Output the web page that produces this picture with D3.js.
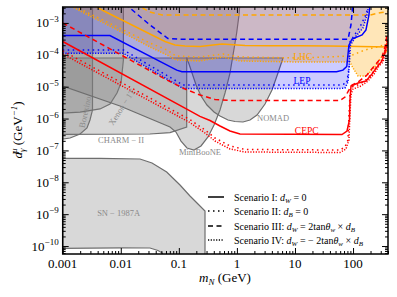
<!DOCTYPE html>
<html>
<head>
<meta charset="utf-8">
<script src="https://cdn.jsdelivr.net/npm/d3@7"></script>
<style>
body { margin: 0; background: #fff; }
text { font-family: "Liberation Serif", "DejaVu Serif", serif; }
</style>
</head>
<body>
<script>
// size of the picture
var width = 397;
var height = 297;

// axis ticks
var xTickValues = [0.001, 0.01, 0.1, 1, 10, 100];
var xTickLabels = ["0.001", "0.01", "0.1", "1", "10", "100"];
var yTickExponents = [-3, -4, -5, -6, -7, -8, -9, -10];

// sensitivity curves, [m_N (GeV), d (GeV^-1)]
var lepI = [[0.001, 4.0e-4], [0.0065, 4.0e-4], [0.092, 3.3e-5], [0.113, 2.95e-5], [52, 2.95e-5], [67, 3.3e-5], [78, 4.3e-5], [85, 2.0e-4], [96, 3.1e-4], [143, 4.2e-4], [167, 6.0e-4], [188, 1.8e-3], [196, 4e-3]];
var lepII = [[0.001, 1.42e-4], [0.0111, 1.42e-4], [0.118, 1.13e-5], [59.6, 1.13e-5], [77.8, 1.28e-5], [86, 4.24e-5], [86, 2.34e-4], [132, 7.6e-4], [172, 2.05e-3], [181, 4e-3]];
var lepIII = [[0.0118, 4e-3], [0.0318, 8.6e-4], [0.065, 3.25e-4], [0.105, 3.07e-4], [82, 3.07e-4], [92, 8.6e-4], [99.8, 4e-3]];
var lepIV = [[0.001, 1.11e-4], [0.0111, 1.11e-4], [0.118, 8.77e-6], [59.6, 8.77e-6], [72.7, 9.1e-6], [81.8, 1.4e-5], [86.8, 5.9e-5], [90.3, 2.0e-4], [113, 3.89e-4], [148, 6.9e-4], [174, 1.77e-3], [188, 4e-3]];

var lhcI = [[0.0032, 4e-3], [0.00494, 2.45e-3], [0.0144, 9.27e-4], [0.0318, 4.5e-4], [0.0578, 2.61e-4], [0.0859, 2.03e-4], [0.1276, 1.89e-4], [0.231, 1.82e-4], [0.553, 2.18e-4], [1.379, 1.96e-4], [3.71, 1.93e-4], [12.2, 1.93e-4], [40.1, 1.89e-4], [132, 1.82e-4], [400, 1.76e-4]];
var lhcII = [[0.0016, 3.3e-3], [0.0111, 6.0e-4], [0.0318, 2.34e-4], [0.0625, 1.42e-4], [0.0893, 9.17e-5], [0.231, 8.54e-5], [0.575, 1.06e-4], [1.13, 8.54e-5], [12.2, 7.94e-5], [88.5, 9.17e-5], [161, 1.42e-4], [400, 2.18e-4]];
var lhcIII = [[0.0176, 4e-3], [0.0318, 2.2e-3], [0.0513, 1.77e-3], [196, 1.77e-3], [291, 2.1e-3], [400, 2.28e-3]];
var lhcIV = [[0.0014, 3.3e-3], [0.0111, 4.84e-4], [0.0318, 1.76e-4], [0.0625, 9.86e-5], [0.0893, 6.87e-5], [0.231, 6.39e-5], [0.575, 8.54e-5], [1.13, 6.39e-5], [12.2, 5.94e-5], [88.5, 5.94e-5], [99.8, 3.85e-5], [122, 2.16e-5], [167, 2.16e-5], [230, 3.85e-5], [303, 7.94e-5], [400, 1.42e-4]];

var cepcI = [[0.001, 2.61e-4], [0.1556, 1.74e-6], [0.231, 1.17e-6], [0.344, 8.69e-7], [0.512, 5.83e-7], [0.76, 4.07e-7], [1.13, 3.27e-7], [64.5, 3.16e-7], [78.7, 4.07e-7], [86.8, 9.0e-7], [88.5, 3.82e-6], [92.2, 1.05e-5], [122, 1.3e-5], [167, 1.51e-5], [212, 2.5e-5], [259, 4.14e-5], [315, 6.39e-5], [355, 1.22e-4], [384, 2.18e-4], [400, 2.92e-4]];
var cepcII = [[0.001, 1.32e-4], [0.1556, 9.27e-7], [0.2823, 4.37e-7], [0.4198, 2.45e-7], [0.76, 1.38e-7], [1.379, 1.07e-7], [59.6, 1.03e-7], [72.7, 1.28e-7], [81.8, 2.12e-7], [85.1, 1.29e-6], [88.5, 5.48e-6], [95.9, 9.77e-6], [132, 1.21e-5], [174, 1.74e-5], [221, 2.88e-5], [269, 5.14e-5], [315, 6.87e-5], [355, 1.42e-4], [384, 2.92e-4]];
var cepcIII = [[0.001, 1.0e-3], [0.0578, 1.74e-5], [0.1276, 8.45e-6], [0.231, 5.48e-6], [0.42, 3.96e-6], [0.824, 3.68e-6], [59.6, 3.68e-6], [72.7, 4.74e-6], [85.1, 7.87e-6], [95.9, 1.13e-5], [122, 1.4e-5], [174, 2.32e-5], [239, 4.79e-5], [315, 8.54e-5], [355, 1.76e-4], [384, 4.18e-4]];
var cepcIV = [[0.001, 1.06e-4], [0.1556, 7.46e-7], [0.2823, 3.52e-7], [0.4198, 1.97e-7], [0.76, 1.11e-7], [1.379, 8.92e-8], [59.6, 8.61e-8], [75.6, 1.11e-7], [85.1, 2.12e-7], [88.5, 1.29e-6], [92.2, 5.48e-6], [99.8, 8.45e-6], [137, 1.05e-5], [181, 1.51e-5], [230, 2.5e-5], [280, 4.46e-5], [328, 5.94e-5], [369, 1.22e-4], [400, 2.49e-4]];

// existing bounds (closed outlines)
var borexino = [[0.001, 1e-2], [0.00326, 1e-2], [0.00326, 1.85e-6], [0.00295, 9.0e-7], [0.00262, 5.05e-7], [0.00199, 3.27e-7], [0.00134, 2.45e-7], [0.001, 2.28e-7]];
var xenon = [[0.001, 1e-2], [0.0111, 1e-2], [0.0111, 6.87e-5], [0.0101, 1.3e-5], [0.00861, 6.34e-6], [0.00653, 2.86e-6], [0.00439, 2.0e-6], [0.00199, 1.6e-6], [0.001, 1.49e-6]];
var charm2 = [[0.001, 7.94e-5], [0.1365, 7.94e-5], [0.1365, 5.43e-7], [0.0705, 3.6e-7], [0.0318, 3.27e-7], [0.001, 3.2e-7]];
var miniboone = [[0.001, 1e-2], [1.17, 1e-2], [1.087, 1.77e-3], [0.99, 4.84e-4], [0.857, 9.86e-5], [0.76, 2.68e-5], [0.624, 6.34e-6], [0.512, 1.85e-6], [0.4036, 6.27e-7], [0.318, 2.64e-7], [0.241, 1.38e-7], [0.182, 1.03e-7], [0.138, 1.19e-7], [0.109, 1.97e-7], [0.0893, 3.78e-7], [0.0705, 5.43e-7], [0.0097, 2.48e-6], [0.001, 1.05e-5]];
var nomad = [[0.1365, 7.94e-5], [6.22, 7.94e-5], [5.1, 2.68e-5], [4.02, 7.87e-6], [3.05, 2.86e-6], [2.22, 1.29e-6], [1.682, 9.0e-7], [1.273, 7.79e-7], [0.927, 8.07e-7], [0.703, 9.0e-7], [0.512, 1.2e-6], [0.4036, 1.6e-6], [0.305, 2.66e-6], [0.241, 5.1e-6], [0.198, 1.13e-5], [0.1686, 2.68e-5], [0.1496, 5.14e-5]];
var sn1987a = [[0.001, 5.65e-8], [0.00439, 5.65e-8], [0.0214, 5.38e-8], [0.0345, 4.03e-8], [0.0618, 2.1e-8], [0.1047, 8.22e-9], [0.1556, 3.71e-9], [0.2137, 2.08e-9], [0.2823, 1.26e-9], [0.2823, 1e-11], [0.065, 1e-11], [0.052, 6.0e-11], [0.0437, 7.24e-11], [0.0318, 8.67e-11], [0.01, 8.8e-11], [0.001, 8.5e-11]];

// legend rows: pieces of text with their style
var legendRows = [
    [["Scenario I:  ", "rm"], ["d", "it"], ["W", "sub"], [" = 0", "rm"]],
    [["Scenario II:  ", "rm"], ["d", "it"], ["B", "sub"], [" = 0", "rm"]],
    [["Scenario III:  ", "rm"], ["d", "it"], ["W", "sub"], [" = 2tan", "rm"], ["θ", "it"], ["w", "sub"], [" ×  ", "rm"], ["d", "it"], ["B", "sub"]],
    [["Scenario IV:  ", "rm"], ["d", "it"], ["W", "sub"], [" = − 2tan", "rm"], ["θ", "it"], ["w", "sub"], [" ×  ", "rm"], ["d", "it"], ["B", "sub"]]
];

// line style of each scenario
var dashes = [null, "1.5,3.5", "5,3.5", "1.2,1.5"];

// scales
var x = d3.scaleLog()
    .domain([0.001, 400])
    .range([62.7, 388]);

var y = d3.scaleLog()
    .domain([Math.pow(10, -10.25), Math.pow(10, -2.5)])
    .range([254, 7]);

var svg = d3.select("body")
    .append("svg")
    .attr("width", width)
    .attr("height", height);

svg.append("defs")
    .append("clipPath")
    .attr("id", "plotClip")
    .append("rect")
    .attr("x", x.range()[0])
    .attr("y", y.range()[1])
    .attr("width", x.range()[1] - x.range()[0])
    .attr("height", y.range()[0] - y.range()[1]);

var plot = svg.append("g").attr("clip-path", "url(#plotClip)");

var line = d3.line()
    .x(function (d) { return x(d[0]); })
    .y(function (d) { return y(d[1]); });

// gray excluded regions
plot.selectAll("path.bound")
    .data([borexino, xenon, charm2, miniboone, nomad, sn1987a])
    .enter()
    .append("path")
    .attr("class", "bound")
    .attr("d", function (d) { return line(d) + "Z"; })
    .style("fill", "#7f7f7f")
    .style("fill-opacity", 0.3)
    .style("stroke", "#6e6e6e")
    .style("stroke-width", 1.2);

// shaded reach of LEP and LHC (above the lowest curve)
var lepFill = [[0.001, 1e-2]].concat(lepIV, [[lepIV[lepIV.length - 1][0], 1e-2]]);
var lhcFill = [[lhcIV[0][0], 1e-2]].concat(lhcIV, [[400, 1e-2]]);

plot.append("path")
    .attr("d", line(lhcFill) + "Z")
    .style("fill", "orange")
    .style("fill-opacity", 0.28);

plot.append("path")
    .attr("d", line(lepFill) + "Z")
    .style("fill", "blue")
    .style("fill-opacity", 0.2);

// all the curves
var curves = [
    { pts: lhcI, color: "orange", s: 0 }, { pts: lhcII, color: "orange", s: 1 },
    { pts: lhcIII, color: "orange", s: 2 }, { pts: lhcIV, color: "orange", s: 3 },
    { pts: lepI, color: "blue", s: 0 }, { pts: lepII, color: "blue", s: 1 },
    { pts: lepIII, color: "blue", s: 2 }, { pts: lepIV, color: "blue", s: 3 },
    { pts: cepcI, color: "red", s: 0 }, { pts: cepcII, color: "red", s: 1 },
    { pts: cepcIII, color: "red", s: 2 }, { pts: cepcIV, color: "red", s: 3 }
];

plot.selectAll("path.curve")
    .data(curves)
    .enter()
    .append("path")
    .attr("class", "curve")
    .attr("d", function (d) { return line(d.pts); })
    .style("fill", "none")
    .style("stroke", function (d) { return d.color; })
    .style("stroke-width", 1.5)
    .style("stroke-dasharray", function (d) { return dashes[d.s]; });

// region labels
function label(txt, m, d, color, size, angle) {
    var t = svg.append("text")
        .attr("transform", "translate(" + x(m) + "," + y(d) + ") rotate(" + (angle || 0) + ")")
        .attr("text-anchor", "middle")
        .attr("dy", "0.35em")
        .attr("font-size", size)
        .style("fill", color)
        .text(txt);
    return t;
}
label("NOMAD", 4.2, 1.04e-6, "#8a8a8a", 8.5);
label("CHARM − II", 0.0101, 2.1e-7, "#8a8a8a", 8.5);
label("MiniBooNE", 0.231, 8.6e-8, "#8a8a8a", 8.5);
label("SN − 1987A", 0.0092, 1.1e-9, "#8a8a8a", 8.5);
label("Borexino", 0.00242, 1.6e-6, "#8a8a8a", 8.5, -78);
label("Xenon − 1T", 0.0104, 2.3e-6, "#8a8a8a", 8.5, -57);
label("LHC", 13.6, 8.9e-5, "orange", 9.5);
label("LEP", 13.2, 1.6e-5, "blue", 9.5);
label("CEPC", 15.9, 4.2e-7, "red", 9.5);

// ticks on all four sides, pointing inwards
var xMinor = [];
var yMinor = [];
for (var e = -3; e <= 2; e++) {
    for (var k = 2; k <= 9; k++) {
        if (k * Math.pow(10, e) <= 400) xMinor.push(k * Math.pow(10, e));
    }
}
for (var e2 = -11; e2 <= -3; e2++) {
    for (var k2 = 2; k2 <= 9; k2++) yMinor.push(k2 * Math.pow(10, e2));
}
var yMajor = yTickExponents.map(function (p) { return Math.pow(10, p); });

var axes = [
    { ax: d3.axisBottom(x), pos: "translate(0," + y.range()[0] + ")", major: xTickValues, minor: xMinor },
    { ax: d3.axisTop(x), pos: "translate(0," + y.range()[1] + ")", major: xTickValues, minor: xMinor },
    { ax: d3.axisLeft(y), pos: "translate(" + x.range()[0] + ",0)", major: yMajor, minor: yMinor },
    { ax: d3.axisRight(y), pos: "translate(" + x.range()[1] + ",0)", major: yMajor, minor: yMinor }
];
axes.forEach(function (a) {
    var g1 = svg.append("g").attr("transform", a.pos)
        .call(a.ax.tickValues(a.major).tickFormat("").tickSizeInner(-6).tickSizeOuter(0));
    g1.select(".domain").remove();
    var g2 = svg.append("g").attr("transform", a.pos)
        .call(a.ax.tickValues(a.minor.filter(function (v) {
            return v >= a.ax.scale().domain()[0] && v <= a.ax.scale().domain()[1];
        })).tickFormat("").tickSizeInner(-3).tickSizeOuter(0));
    g2.select(".domain").remove();
    svg.selectAll(".tick line").style("stroke", "#000").style("stroke-width", 1);
});

// x tick labels
svg.selectAll("text.xlab")
    .data(xTickValues)
    .enter()
    .append("text")
    .attr("class", "xlab")
    .attr("x", function (d) { return x(d); })
    .attr("y", y.range()[0] + 14)
    .attr("text-anchor", "middle")
    .attr("font-size", 13)
    .text(function (d, i) { return xTickLabels[i]; });

// y tick labels, 10 with a superscript
var ylab = svg.selectAll("text.ylab")
    .data(yTickExponents)
    .enter()
    .append("text")
    .attr("class", "ylab")
    .attr("x", x.range()[0] - 4)
    .attr("y", function (d) { return y(Math.pow(10, d)) + 4.5; })
    .attr("text-anchor", "end")
    .attr("font-size", 13);
ylab.append("tspan").text("10");
ylab.append("tspan")
    .attr("dy", -5.5)
    .attr("font-size", 9)
    .text(function (d) { return "−" + (-d); });

// frame
svg.append("rect")
    .attr("x", x.range()[0])
    .attr("y", y.range()[1])
    .attr("width", x.range()[1] - x.range()[0])
    .attr("height", y.range()[0] - y.range()[1])
    .style("fill", "none")
    .style("stroke", "#000")
    .style("stroke-width", 1.5);

// write text made of styled pieces
function writePieces(t, pieces, subSize) {
    var shift = 0;
    pieces.forEach(function (p) {
        var target = p[1] == "sub" ? 2.5 : (p[1] == "sup" ? -5 : 0);
        var ts = t.append("tspan").attr("dy", target - shift).text(p[0]);
        if (p[1] != "rm") ts.style("font-style", "italic");
        if (p[1] == "sub" || p[1] == "sup") ts.attr("font-size", subSize);
        if (p[2]) ts.attr("dx", p[2]);
        shift = target;
    });
}

// legend
var legendY = [197, 211, 226, 240];
legendRows.forEach(function (row, i) {
    svg.append("line")
        .attr("x1", 208).attr("x2", 224)
        .attr("y1", legendY[i]).attr("y2", legendY[i])
        .style("stroke", "#000")
        .style("stroke-width", 1.5)
        .style("stroke-dasharray", dashes[i]);
    var t = svg.append("text")
        .attr("x", 234)
        .attr("y", legendY[i] + 3.5)
        .attr("font-size", 10);
    writePieces(t, row, 7);
});

// axis titles
var xTitle = svg.append("text")
    .attr("x", 225)
    .attr("y", 282)
    .attr("text-anchor", "middle")
    .attr("font-size", 13);
writePieces(xTitle, [["m", "it"], ["N", "sub"], [" (GeV)", "rm"]], 9);

var yTitle = svg.append("text")
    .attr("transform", "translate(22,130) rotate(-90)")
    .attr("text-anchor", "middle")
    .attr("font-size", 13);
writePieces(yTitle, [["d", "it"], ["γ", "sub"], ["μ", "sup", -4.5], [" (GeV", "rm"], ["−1", "sup"], [")", "rm"]], 9);
</script>
</body>
</html>
